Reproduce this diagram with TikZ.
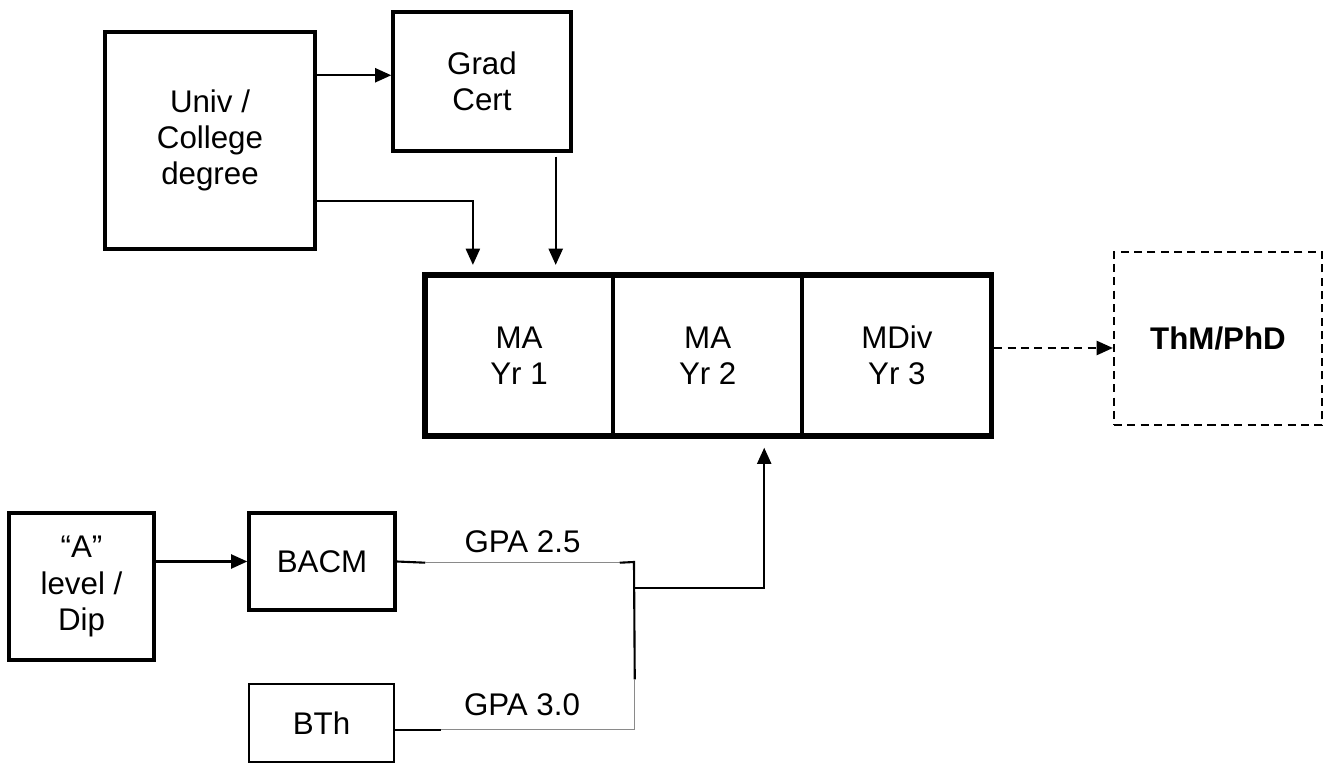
\documentclass[tikz,border=0pt]{standalone}
\usepackage{fontspec}
\setmainfont{Liberation Sans}
\usepackage{tikz}
\usetikzlibrary{arrows.meta,calc,positioning,fit}
\definecolor{rulegray}{HTML}{8A8A8A}

\begin{document}
\begin{tikzpicture}[x=0.01cm,y=-0.01cm,
  every node/.style={font=\fontsize{8.9}{10.3}\selectfont,align=center,inner sep=0pt},
  box/.style={draw,line width=0.95pt},
  thinbox/.style={draw,line width=0.6pt},
  link/.style={line width=0.6pt},
  grayline/.style={rulegray,line width=0.4pt},
  arr/.style={link,-{Triangle[length=4.6pt,width=4pt]}}]
  \fill[white] (0,0) rectangle (1332,764);
  \useasboundingbox (0,0) rectangle (1332,764);
  % entry routes
  \node[box,minimum width=2.1cm,minimum height=2.17cm] (univ) at (210,140.5) {Univ /\\College\\degree};
  \node[box,minimum width=1.78cm,minimum height=1.39cm] (grad) at (482,81.5) {Grad\\Cert};
  \node[box,minimum width=1.45cm,minimum height=1.47cm] (alev) at (81.5,586.5) {“A”\\level /\\Dip};
  \node[box,minimum width=1.46cm,minimum height=0.97cm] (bacm) at (322,561.5) {BACM};
  \node[thinbox,minimum width=1.45cm,minimum height=0.78cm] (bth) at (321.5,723) {BTh};
  % masters years
  \node[thinbox,minimum width=1.86cm,minimum height=1.59cm] (ma1) at (519,355.5) {MA\\Yr 1};
  \node[thinbox,minimum width=1.87cm,minimum height=1.59cm,right=0pt of ma1] (ma2) {MA\\Yr 2};
  \node[thinbox,minimum width=1.87cm,minimum height=1.59cm,right=0pt of ma2] (ma3) {MDiv\\Yr 3};
  \node[fit=(ma1)(ma3),draw,line width=1.5pt] (ma) {};
  \node[thinbox,dash pattern=on 2.3pt off 1.5pt,minimum width=2.08cm,minimum height=1.73cm] (thm) at (1218,338.5) {\textbf{ThM/PhD}};
  % GPA labels
  \node[minimum width=1.93cm,minimum height=0.4cm] (gpaA) at (522.5,542) {GPA 2.5};
  \node[minimum width=1.92cm,minimum height=0.49cm] (gpaB) at (538,704.5) {GPA 3.0\hspace*{0.32cm}};
  \coordinate (jtop) at (634,562);
  \coordinate (jmid) at (634,588);
  % connectors
  \draw[arr] ($(univ.north east)+(0,45)$) coordinate (u1) -- (u1 -| grad.west);
  \draw[arr] ($(univ.east)+(0,60.5)$) -| ($(ma1.north west)+(48,-10)$);
  \draw[arr] ($(grad.south east)+(-17,4)$) coordinate (g1) -- ($(g1 |- ma1.north)+(0,-10)$);
  \draw[arr,dash pattern=on 2.3pt off 1.5pt] ($(ma.east)+(0,-7.5)$) coordinate (m1) -- (m1 -| thm.west);
  \draw[arr] (alev.east |- bacm.west) -- (bacm.west);
  \draw[link] (bacm.east) -- (gpaA.south west);
  \draw[grayline] (gpaA.south west) -- (gpaA.south east);
  \draw[link] (gpaA.south east) -- (jtop) -- (gpaB.north east);
  \draw[grayline] (gpaB.north east) -- (gpaB.south east) -- (gpaB.south west);
  \draw[link] (gpaB.south west) -- (gpaB.south west -| bth.east);
  \draw[arr] (jmid) -| ($(ma.south)+(56,9)$);
\end{tikzpicture}
\end{document}
